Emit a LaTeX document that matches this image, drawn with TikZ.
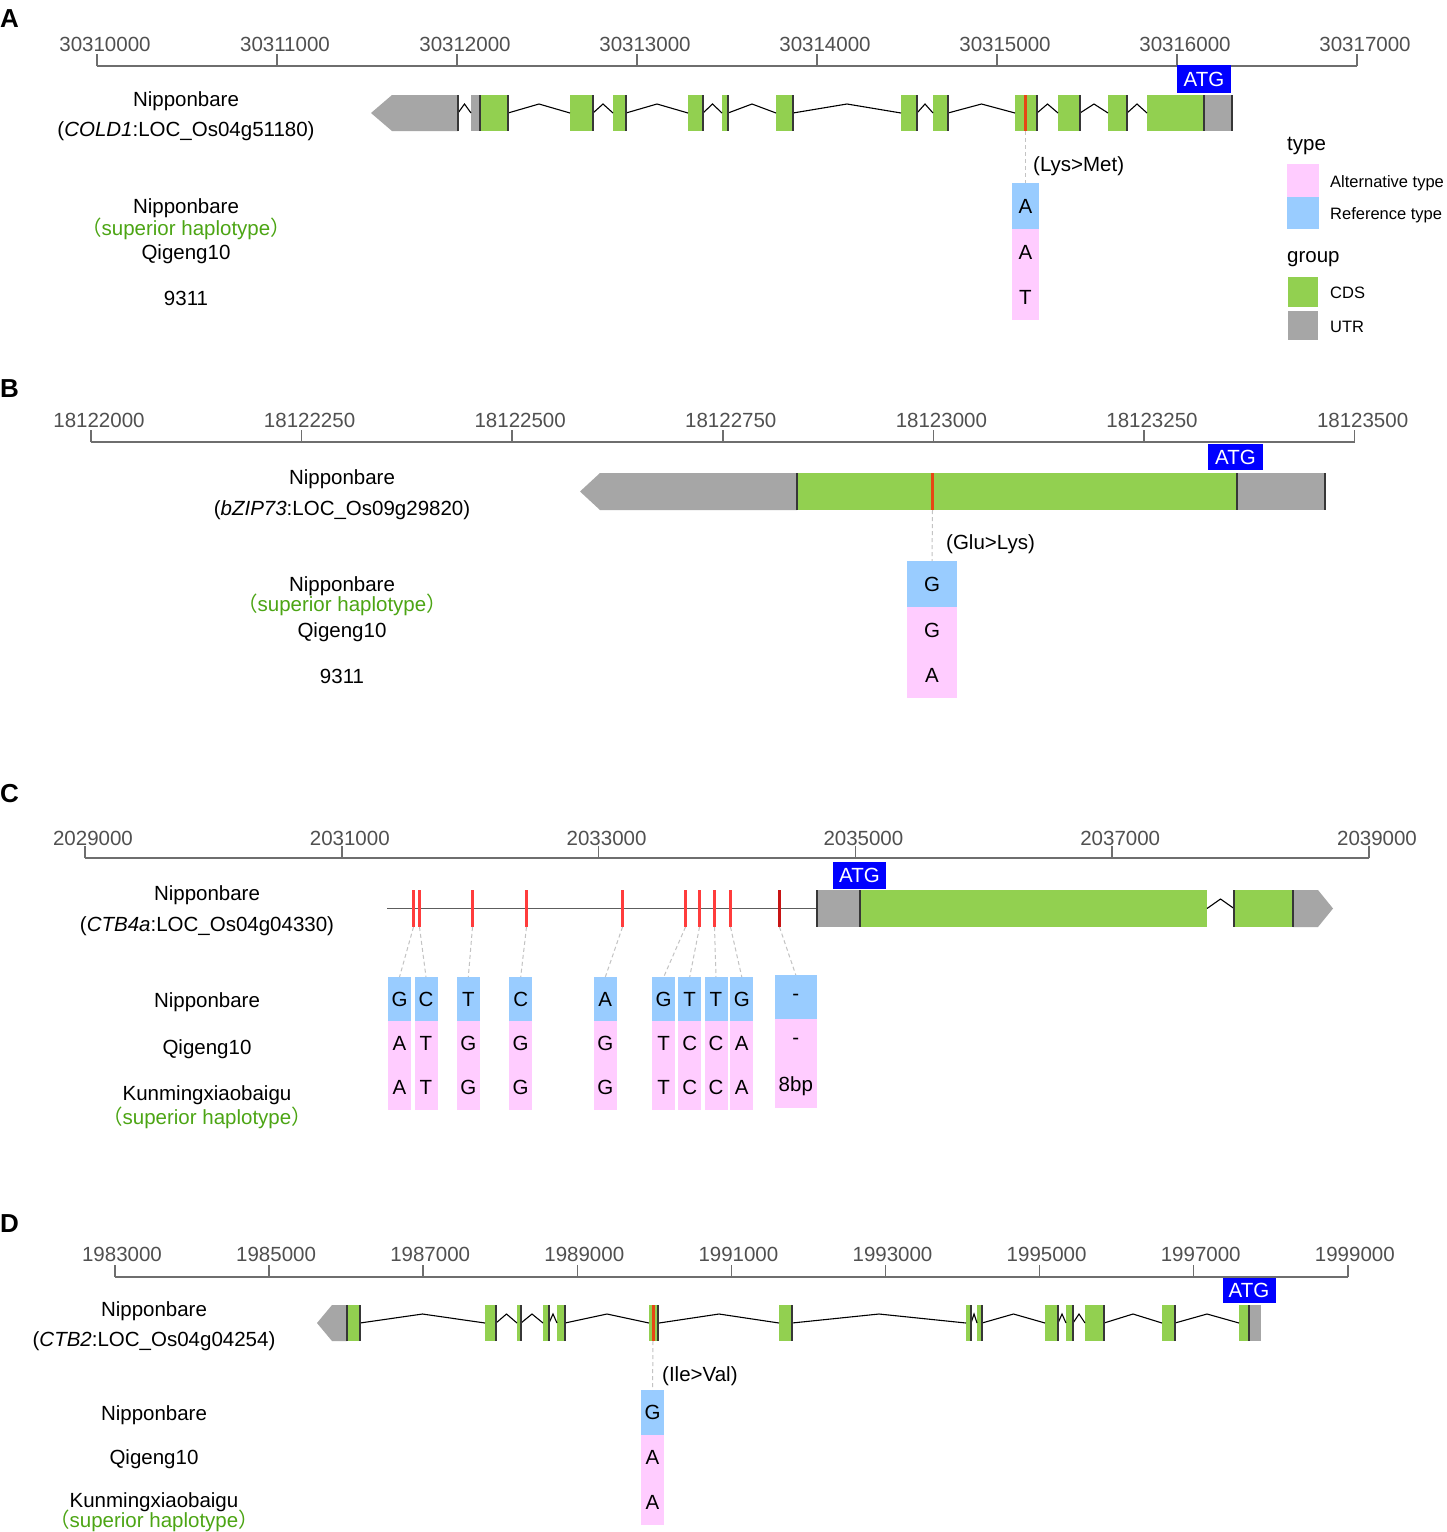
\documentclass[tikz,border=0pt]{standalone}
\usepackage{fontspec}
\setmainfont{Liberation Sans}
\newfontfamily\cjk{Noto Sans CJK SC}
\definecolor{cdsgreen}{RGB}{146,208,80}
\definecolor{utrgray}{RGB}{166,166,166}
\definecolor{refblue}{RGB}{153,204,255}
\definecolor{altpink}{RGB}{255,204,255}
\definecolor{atgblue}{RGB}{0,0,255}
\definecolor{snpred}{RGB}{230,70,20}
\definecolor{snplight}{RGB}{255,60,60}
\definecolor{snpdark}{RGB}{200,20,20}
\definecolor{edgecol}{RGB}{55,55,55}
\definecolor{axiscol}{RGB}{110,110,110}
\definecolor{tickcol}{RGB}{80,80,80}
\definecolor{supgreen}{RGB}{76,165,20}
\definecolor{dashcol}{RGB}{195,195,195}
\newcommand\fs{\fontsize{20.5}{24}\selectfont}
\newcommand\suphap{{\cjk （}superior haplotype{\cjk ）}}
\begin{document}
\begin{tikzpicture}[x=1pt,y=-1pt,
 txt/.style={inner sep=0pt, font=\fs, anchor=base},
 tlab/.style={txt, text=tickcol},
 suplab/.style={txt, text=supgreen},
 panel/.style={inner sep=0pt, font=\fontsize{26}{30}\selectfont\bfseries, anchor=base west},
 legtitle/.style={inner sep=0pt, font=\fs, anchor=base west},
 legtxt/.style={inner sep=0pt, font=\fontsize{16.5}{20}\selectfont, anchor=base west},
 axisline/.style={draw=axiscol, line width=1.5pt},
 intron/.style={draw=black, line width=1.1pt},
 exedge/.style={draw=edgecol, line width=1.6pt},
 refc/.style={inner sep=0pt, outer sep=0pt, font=\fs, fill=refblue},
 altc/.style={inner sep=0pt, outer sep=0pt, font=\fs, fill=altpink},
 atg/.style={inner sep=0pt, fill=atgblue, text=white, font=\fs},
 snpdash/.style={draw=dashcol, line width=1pt, dash pattern=on 4pt off 3pt},
 snpline/.style={line width=2.1pt},
]
\useasboundingbox (0,0) rectangle (1447,1532);
\fill[white] (0,0) rectangle (1447,1532);

% ================= Panel A =================
\node[panel] (pA) at (0,27) {A};
\draw[axisline] (97,66) -- (1357,66);
\foreach \x/\l in {97/30310000,277/30311000,457/30312000,637/30313000,817/30314000,997/30315000,1177/30316000,1357/30317000}{
  \draw[axisline] (\x,66) -- (\x,54);
  \node[tlab] (tA\x) at (\x+8,51) {\l};
}
\fill[utrgray] (371,113) -- (392,95) -- (458,95) -- (458,131) -- (392,131) -- cycle;
\fill[utrgray] (471,95) rectangle (480,131);
\fill[utrgray] (1204,95) rectangle (1232,131);
\foreach \a/\b in {480/508,570/593,613/626,688/703,722/728,776/793,901/917,933/948,1015/1037,1058/1080,1108/1127,1147/1204}
  \fill[cdsgreen] (\a,95) rectangle (\b,131);
\foreach \a/\b in {458/471,508/570,593/613,626/688,703/722,728/776,793/901,917/933,948/1015,1037/1058,1080/1108,1127/1147}
  \draw[intron] (\a,113) -- ({(\a+\b)/2},104) -- (\b,113);
\foreach \x in {458,480,508,593,626,703,728,793,917,948,1037,1080,1127,1204,1232}
  \draw[exedge] (\x,95) -- (\x,131);
\draw[snpred, snpline] (1025.5,95) -- (1025.5,131);
\node[atg, minimum width=54pt, minimum height=28pt] (atgA) at (1204,79) {ATG};

\node[txt] (nA1) at (186,106) {Nipponbare};
\node[txt] (gA) at (186,136) {(\textit{COLD1}:LOC\_Os04g51180)};
\node[txt] (nA2) at (186,213) {Nipponbare};
\node[suplab] (sA) at (186,235) {\suphap};
\node[txt] (qA) at (186,259) {Qigeng10};
\node[txt] (kA) at (186,305) {9311};

\node[refc, minimum width=27pt, minimum height=46pt] (rA) at (1025.5,206) {A};
\node[altc, minimum width=27pt, minimum height=46pt] (aA1) at (1025.5,252) {A};
\node[altc, minimum width=27pt, minimum height=45pt] (aA2) at (1025.5,297.5) {T};
\coordinate (snpA) at (1025.5,131);
\draw[snpdash] (snpA) -- (rA.north);
\node[txt, anchor=base west] (mA) at (1033,171) {(Lys>Met)};

% legend
\node[legtitle] (lt) at (1287,150) {type};
\fill[altpink] (1287,164) rectangle (1319,197);
\fill[refblue] (1287,197) rectangle (1319,229);
\node[legtxt] (l1) at (1330,187) {Alternative type};
\node[legtxt] (l2) at (1330,219) {Reference type};
\node[legtitle] (lg) at (1287,262) {group};
\fill[cdsgreen] (1288,277) rectangle (1318,307);
\fill[utrgray] (1288,311) rectangle (1318,340);
\node[legtxt] (l3) at (1330,298) {CDS};
\node[legtxt] (l4) at (1330,332) {UTR};

% ================= Panel B =================
\node[panel] (pB) at (0,397) {B};
\draw[axisline] (91,442) -- (1354.6,442);
\foreach \x/\l in {91/18122000,301.6/18122250,512.2/18122500,722.8/18122750,933.4/18123000,1144/18123250,1354.6/18123500}{
  \draw[axisline] (\x,442) -- (\x,430);
  \node[tlab] (tB\l) at (\x+8,427) {\l};
}
\fill[utrgray] (580,491.5) -- (600,473) -- (797,473) -- (797,510) -- (600,510) -- cycle;
\fill[cdsgreen] (797,473) rectangle (1237,510);
\fill[utrgray] (1237,473) rectangle (1325,510);
\foreach \x in {797,1237,1325}
  \draw[draw=edgecol, line width=1.3pt] (\x,473) -- (\x,510);
\draw[snpred, snpline] (932.5,473) -- (932.5,510);
\node[atg, minimum width=55pt, minimum height=26pt] (atgB) at (1235.5,457) {ATG};

\node[txt] (nB1) at (342,484) {Nipponbare};
\node[txt] (gB) at (342,515) {(\textit{bZIP73}:LOC\_Os09g29820)};
\node[txt] (nB2) at (342,591) {Nipponbare};
\node[suplab] (sB) at (342,611) {\suphap};
\node[txt] (qB) at (342,637) {Qigeng10};
\node[txt] (kB) at (342,683) {9311};

\node[refc, minimum width=50pt, minimum height=46pt] (rB) at (932,584) {G};
\node[altc, minimum width=50pt, minimum height=46pt] (aB1) at (932,630) {G};
\node[altc, minimum width=50pt, minimum height=45pt] (aB2) at (932,675.5) {A};
\coordinate (snpB) at (932.5,510);
\draw[snpdash] (snpB) -- (rB.north);
\node[txt, anchor=base west] (mB) at (946,549) {(Glu>Lys)};

% ================= Panel C =================
\node[panel] (pC) at (0,802) {C};
\draw[axisline] (85,858) -- (1369,858);
\foreach \x/\l in {85/2029000,341.8/2031000,598.6/2033000,855.4/2035000,1112.2/2037000,1369/2039000}{
  \draw[axisline] (\x,858) -- (\x,846);
  \node[tlab] (tC\l) at (\x+8,845) {\l};
}
\draw[draw=axiscol!85!black, line width=1.8pt] (387,908.5) -- (817,908.5);
\foreach \i/\x in {1/413.5,2/419.5,3/472.5,4/526.5,5/622.5,6/685.5,7/699.5,8/714.5,9/730.5}{
  \draw[snplight, snpline] (\x,890) -- (\x,927);
  \coordinate (sC\i) at (\x,927);
}
\draw[snpdark, snpline] (779.5,890) -- (779.5,927);
\coordinate (sC10) at (779.5,927);
\fill[utrgray] (817,890) rectangle (860,927);
\fill[cdsgreen] (860,890) rectangle (1207,927);
\draw[intron] (1207,908.5) -- (1220.5,899) -- (1234,908.5);
\fill[cdsgreen] (1234,890) rectangle (1293,927);
\fill[utrgray] (1293,890) -- (1318,890) -- (1333,908.5) -- (1318,927) -- (1293,927) -- cycle;
\foreach \x in {817,860,1234,1293}
  \draw[exedge] (\x,890) -- (\x,927);
\node[atg, minimum width=53pt, minimum height=27pt] (atgC) at (859.5,875.5) {ATG};

\node[txt] (nC1) at (207,900) {Nipponbare};
\node[txt] (gC) at (207,931) {(\textit{CTB4a}:LOC\_Os04g04330)};
\node[txt] (nC2) at (207,1007) {Nipponbare};
\node[txt] (qC) at (207,1054) {Qigeng10};
\node[txt] (kC) at (207,1100) {Kunmingxiaobaigu};
\node[suplab] (sC) at (207,1124) {\suphap};

\foreach \i/\cx/\r/\p/\q in {1/399.5/G/A/A,2/426/C/T/T,3/468.3/T/G/G,4/520.7/C/G/G,5/605.3/A/G/G,6/663.7/G/T/T,7/689.7/T/C/C,8/716/T/C/C,9/741.8/G/A/A}{
  \node[refc, minimum width=23pt, minimum height=44pt] (cR\i) at (\cx,999) {\r};
  \node[altc, minimum width=23pt, minimum height=44.5pt] (cP\i) at (\cx,1043.25) {\p};
  \node[altc, minimum width=23pt, minimum height=44.5pt] (cQ\i) at (\cx,1087.75) {\q};
  \draw[snpdash] (sC\i) -- (cR\i.north);
}
\node[refc, minimum width=42pt, minimum height=44pt] (cR10) at (795.8,997) {-};
\node[altc, minimum width=42pt, minimum height=44.5pt] (cP10) at (795.8,1041.25) {-};
\node[altc, minimum width=42pt, minimum height=44.5pt] (cQ10) at (795.8,1085.75) {8bp};
\draw[snpdash] (sC10) -- (cR10.north);

% ================= Panel D =================
\node[panel] (pD) at (0,1232) {D};
\draw[axisline] (115,1277) -- (1347.8,1277);
\foreach \x/\l in {115/1983000,269.1/1985000,423.2/1987000,577.3/1989000,731.4/1991000,885.5/1993000,1039.6/1995000,1193.7/1997000,1347.8/1999000}{
  \draw[axisline] (\x,1277) -- (\x,1265);
  \node[tlab] (tD\l) at (\x+7,1261) {\l};
}
\fill[utrgray] (317,1323) -- (332,1305) -- (347,1305) -- (347,1341) -- (332,1341) -- cycle;
\fill[utrgray] (1249,1305) rectangle (1261,1341);
\foreach \a/\b in {347/360,485/496,517/521,543/549,557/565,649/659,779/792,966/971,977/982,1045/1058,1066/1073,1085/1104,1162/1175,1239/1249}
  \fill[cdsgreen] (\a,1305) rectangle (\b,1341);
\foreach \a/\b in {360/485,496/517,521/543,549/557,565/649,659/779,792/966,971/977,982/1045,1058/1066,1073/1085,1104/1162,1175/1239}
  \draw[intron] (\a,1323) -- ({(\a+\b)/2},1314) -- (\b,1323);
\foreach \x in {347,360,496,521,549,565,658,792,971,982,1058,1073,1104,1175,1249}
  \draw[exedge] (\x,1305) -- (\x,1341);
\draw[snpred, snpline] (653.5,1305) -- (653.5,1341);
\node[atg, minimum width=53pt, minimum height=25pt] (atgD) at (1249,1290.5) {ATG};

\node[txt] (nD1) at (154,1316) {Nipponbare};
\node[txt] (gD) at (154,1346) {(\textit{CTB2}:LOC\_Os04g04254)};
\node[txt] (nD2) at (154,1420) {Nipponbare};
\node[txt] (qD) at (154,1464) {Qigeng10};
\node[txt] (kD) at (154,1507) {Kunmingxiaobaigu};
\node[suplab] (sD) at (154,1527) {\suphap};

\node[refc, minimum width=23pt, minimum height=45pt] (rD) at (652.5,1412.5) {G};
\node[altc, minimum width=23pt, minimum height=45pt] (aD1) at (652.5,1457.5) {A};
\node[altc, minimum width=23pt, minimum height=45pt] (aD2) at (652.5,1502.5) {A};
\coordinate (snpD) at (653,1341);
\draw[snpdash] (snpD) -- (rD.north);
\node[txt, anchor=base west] (mD) at (662,1381) {(Ile>Val)};
\end{tikzpicture}
\end{document}
